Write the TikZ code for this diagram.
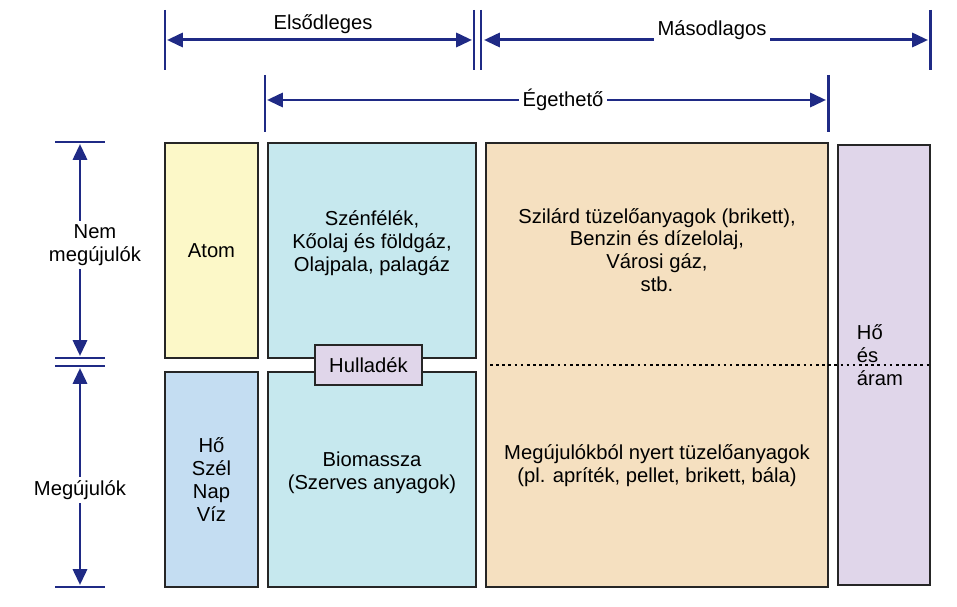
\documentclass[tikz,border=0pt]{standalone}
\usepackage{fontspec}
\setmainfont{Liberation Sans}
\usetikzlibrary{arrows.meta}
\definecolor{dimblue}{HTML}{1F2A85}
\definecolor{atomfill}{HTML}{FCF8C8}
\definecolor{renewfill}{HTML}{C4DDF2}
\definecolor{fossilfill}{HTML}{C6E8EE}
\definecolor{secfill}{HTML}{F5E0C0}
\definecolor{lilac}{HTML}{E0D6EA}
\tikzset{
dimline/.style={draw=dimblue,line width=1.7pt},
dimarrow/.style={dimline,-{Triangle[length=9pt,width=8pt]}},
dimlabel/.style={fill=white,inner sep=2pt,align=center,font=\fontsize{11.5}{13}\selectfont},
boxstyle/.style={draw=black!85,line width=1.6pt,align=center,font=\fontsize{11.5}{13}\selectfont},
labelstyle/.style={align=center,font=\fontsize{11.5}{13}\selectfont}
}
\begin{document}
\begin{tikzpicture}[x=0.02cm,y=-0.02cm]
\useasboundingbox (0,0) rectangle (957,607);

% boxes
\node[boxstyle,fill=atomfill,minimum width=93*0.02cm,minimum height=215*0.02cm] (atom) at (211.5,250.5) {Atom};
\node[boxstyle,fill=renewfill,minimum width=93*0.02cm,minimum height=215*0.02cm] (megu) at (211.5,479.5) {Hő\\Szél\\Nap\\Víz};
\node[boxstyle,fill=fossilfill,minimum width=208*0.02cm,minimum height=215*0.02cm] (fossil) at (372,250.5) {};
\node[labelstyle] (fossiltext) at (372,243) {Szénfélék,\\Kőolaj és földgáz,\\Olajpala, palagáz};
\node[boxstyle,fill=fossilfill,minimum width=208*0.02cm,minimum height=215*0.02cm] (bio) at (372,479.5) {};
\node[labelstyle] (biotext) at (372,473) {Biomassza\\(Szerves anyagok)};
\node[boxstyle,fill=secfill,minimum width=342*0.02cm,minimum height=444*0.02cm] (sec) at (657,365) {};
\node[labelstyle] (sectop) at (657,250) {Szilárd tüzelőanyagok (brikett),\\Benzin és dízelolaj,\\Városi gáz,\\stb.};
\node[labelstyle] (secbot) at (657,466) {Megújulókból nyert tüzelőanyagok\\(pl. apríték, pellet, brikett, bála)};
\node[boxstyle,fill=lilac,minimum width=92*0.02cm,minimum height=440*0.02cm] (power) at (884,365) {};
\node[labelstyle,align=left] (powertext) at (880,355) {Hő\\ és\\ áram};
\node[boxstyle,fill=lilac,minimum width=107*0.02cm,minimum height=40*0.02cm,line width=1.3pt] (waste) at (368.5,365) {Hulladék};
\coordinate (dotl) at (490,365);
\coordinate (dotr) at (930,365);
\draw[dotted,line width=1.5pt] (dotl) -- (dotr);

% top dimensions
\foreach \x/\a/\b in {165/10/70,474/10/70,481/10/70,930/10/70,265/75/132,828/75/132}
  \draw[dimline] (\x,\a) -- (\x,\b);
\coordinate (e1) at (167,40); \coordinate (e2) at (472,40);
\coordinate (m1) at (484,40); \coordinate (m2) at (928,40);
\coordinate (g1) at (267,100); \coordinate (g2) at (826,100);
\node[dimlabel] (elso) at (323,24) {Elsődleges};
\node[dimlabel] (maso) at (712,30) {Másodlagos};
\node[dimlabel] (eget) at (563,100) {Égethető};
\draw[dimarrow] (elso.south |- e1) -- (e1);
\draw[dimarrow] (elso.south |- e1) -- (e2);
\draw[dimarrow] (maso.west |- m1) -- (m1);
\draw[dimarrow] (maso.east |- m1) -- (m2);
\draw[dimarrow] (eget.west) -- (g1);
\draw[dimarrow] (eget.east) -- (g2);

% left dimensions
\foreach \y in {142,358,366,587}
  \draw[dimline] (55,\y) -- (105,\y);
\coordinate (n1) at (80,144); \coordinate (n2) at (80,356);
\coordinate (r1) at (80,368); \coordinate (r2) at (80,585);
\node[dimlabel] (nem) at (95,245) {Nem\\megújulók};
\node[dimlabel] (ren) at (80,490) {Megújulók};
\draw[dimarrow] (nem.north -| n1) -- (n1);
\draw[dimarrow] (nem.south -| n1) -- (n2);
\draw[dimarrow] (ren.north) -- (r1);
\draw[dimarrow] (ren.south) -- (r2);
\end{tikzpicture}
\end{document}
